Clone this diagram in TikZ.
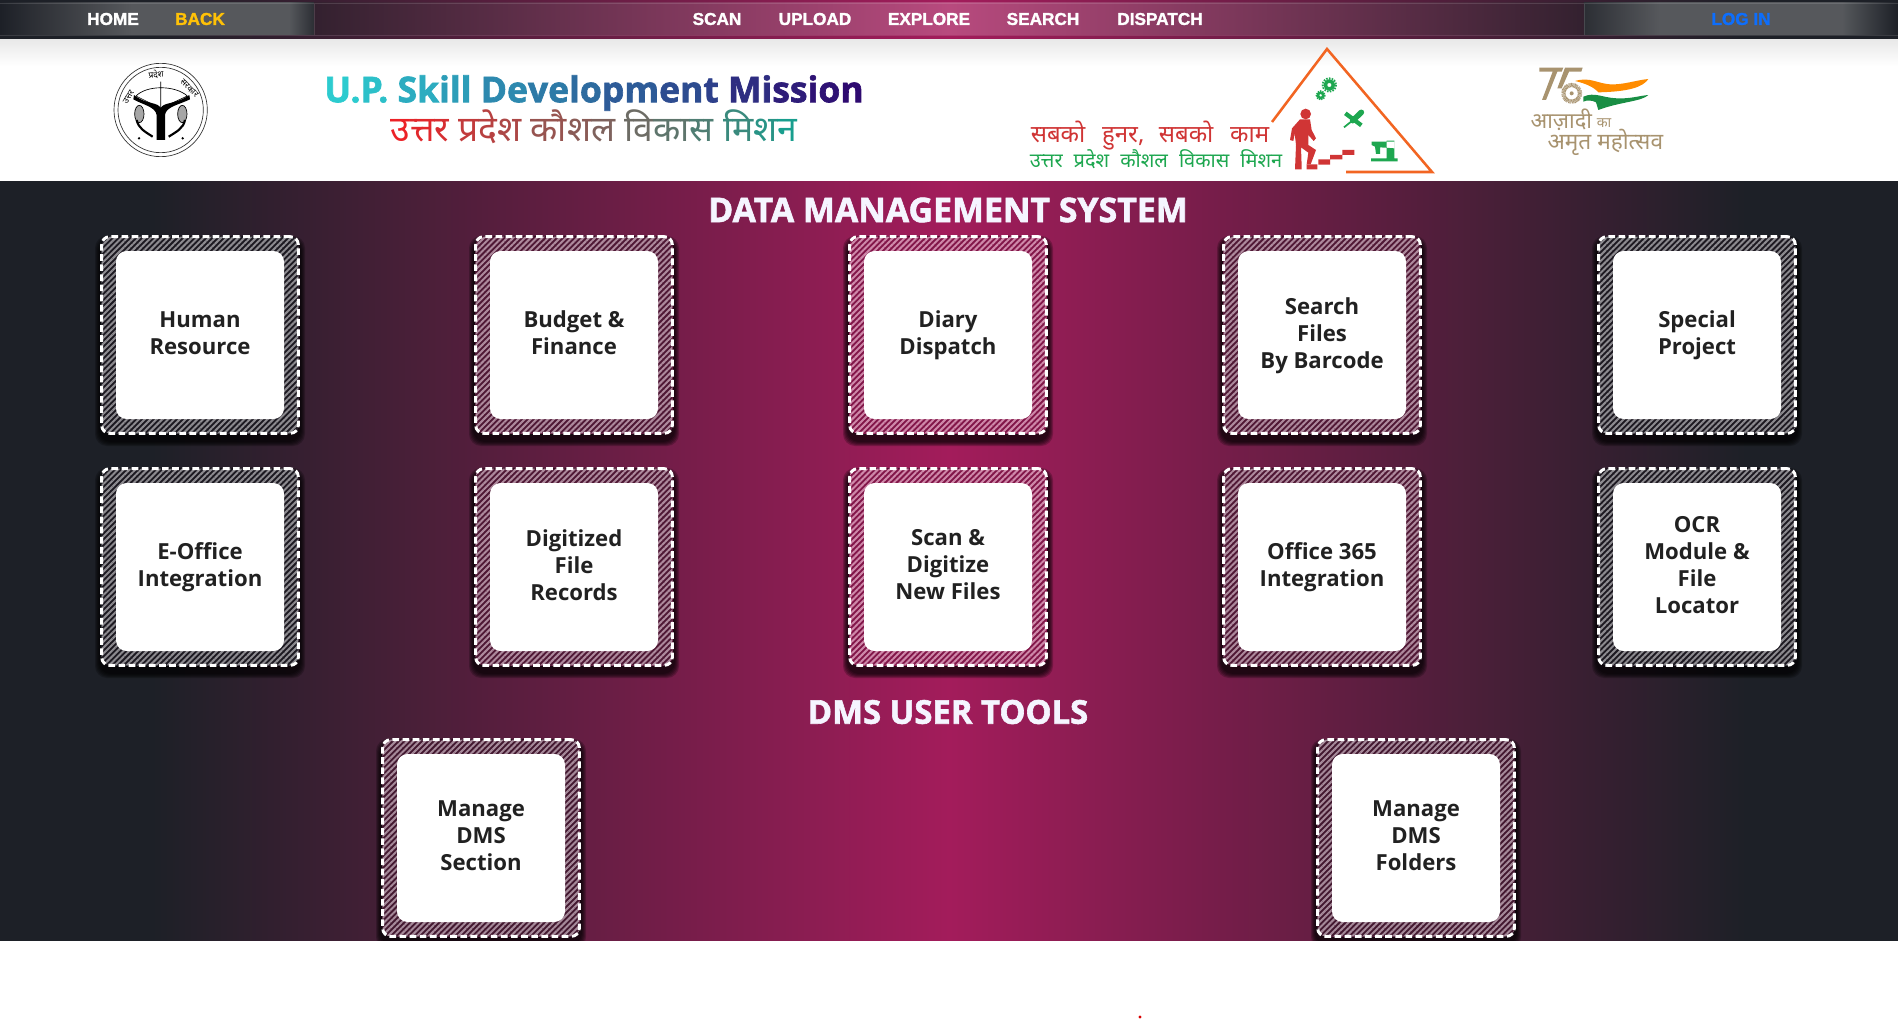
\documentclass[tikz,border=0pt]{standalone}
\usepackage{fontspec}
\setmainfont{Open Sans}
\newfontfamily\devafont[Script=Devanagari,BoldFeatures={FakeBold=1.2}]{Noto Sans}
\newfontfamily\navfont[BoldFeatures={FakeBold=1.6}]{Liberation Sans}
\newfontfamily\headfont[BoldFeatures={FakeBold=1.8}]{Open Sans}
\usetikzlibrary{patterns.meta}
\definecolor{bodydark}{HTML}{1D2027}
\definecolor{bodymid}{HTML}{A31C5B}
\definecolor{titlestart}{HTML}{2CCBCF}
\definecolor{titleend}{HTML}{2E0A70}
\definecolor{hindistart}{HTML}{EC2227}
\definecolor{hindiend}{HTML}{189E8E}
\definecolor{logored}{HTML}{D03535}
\definecolor{logogreen}{HTML}{1EA750}
\definecolor{logoorange}{HTML}{F26522}
\definecolor{amrit}{HTML}{A8936F}
\definecolor{cardtext}{HTML}{212121}
\definecolor{navblue}{HTML}{0D6EFD}
\definecolor{navamber}{HTML}{FFC107}
\definecolor{navgray}{HTML}{56585C}
\pgfdeclarehorizontalshading{bodyshade}{100bp}{color(0bp)=(bodydark); color(29bp)=(bodydark); color(50bp)=(bodymid); color(71bp)=(bodydark); color(100bp)=(bodydark)}
\pgfdeclarehorizontalshading{navleft}{100bp}{color(0bp)=(bodydark); color(25bp)=(bodydark); color(30bp)=(bodydark!85!gray); color(46bp)=(navgray); color(71bp)=(navgray); color(75bp)=(bodydark!85!gray); color(100bp)=(bodydark)}
\pgfdeclarehorizontalshading{navright}{100bp}{color(0bp)=(bodydark); color(25bp)=(bodydark!85!gray); color(37bp)=(navgray); color(66bp)=(navgray); color(75bp)=(bodydark); color(100bp)=(bodydark)}
\definecolor{navend}{HTML}{33212F}
\definecolor{navmid}{HTML}{B84A7E}
\pgfdeclarehorizontalshading{navmiddle}{100bp}{color(0bp)=(navend); color(25bp)=(navend); color(50bp)=(navmid); color(75bp)=(navend); color(100bp)=(navend)}
\newcommand\tg[2]{\textcolor{titleend!#1!titlestart}{#2}}
\newcommand\hg[2]{\textcolor{hindiend!#1!hindistart}{#2}}
\begin{document}
\begin{tikzpicture}[x=.75pt,y=-.75pt,
  navitem/.style={font=\navfont\bfseries\fontsize{12.9}{14}\selectfont,text=white,inner sep=0pt},
  sectionhead/.style={text=white!96!blue,inner sep=0pt},
  cardframe/.style={draw=white,line width=2.2pt,dash pattern=on 5pt off 2.6pt,rounded corners=6pt,minimum size=147.5pt,inner sep=0pt,outer sep=0pt,
    preaction={fill=stripecol!80!black},pattern={Lines[angle=45,distance=3.1pt,line width=1.5pt]},pattern color=white!48!stripecol},
  cardface/.style={fill=white,rounded corners=8pt,minimum size=126pt,inner sep=0pt},
  cardlabel/.style={inner sep=0pt,align=center,text=cardtext,font=\bfseries\fontsize{16.6}{20.2}\selectfont,execute at begin node=\strut,execute at end node=\strut},
  logotext/.style={inner sep=0pt},
  amrittext/.style={text=amrit,inner sep=0pt},
  sealtext/.style={font=\devafont\fontsize{6.4}{8}\selectfont,inner sep=0pt}]
  \useasboundingbox (0,0) rectangle (1898,1020);
  \fill[white] (0,0) rectangle (1898,1020);
  \shade[top color=black!9,bottom color=white] (0,39) rectangle (1898,66);
  \shade[shading=bodyshade] (0,0) rectangle (1898,39);
  \shade[shading=navleft] (0,3) rectangle (314,35);
  \shade[shading=navmiddle] (314,3) rectangle (1584,35);
  \shade[shading=navright] (1584,3) rectangle (1898,35);
  \draw[white,opacity=.13] (0,3) -- (1898,3) (0,35) -- (1898,35) (314,3) -- (314,35) (1584,3) -- (1584,35);
  \foreach \nm/\x/\lab/\col in {home/113/HOME/white,back/200/BACK/navamber,scan/717/SCAN/white,upload/815/UPLOAD/white,explore/929/EXPLORE/white,search/1043/SEARCH/white,dispatch/1160/DISPATCH/white,login/1741/LOG IN/navblue} {
    \node[navitem,text=\col] (\nm) at (\x,19) {\lab};
  }
  \shade[shading=bodyshade] (0,181.5) rectangle (1898,940.5);
  \node[sectionhead,font=\headfont\bfseries\fontsize{25.4}{28}\selectfont] (datahead) at (948,210) {DATA MANAGEMENT SYSTEM};
  \node[sectionhead,font=\headfont\bfseries\fontsize{24.6}{28}\selectfont] (toolhead) at (948,712) {DMS USER TOOLS};
  \foreach \nm/\cx/\cy/\lab in {
    hr/200/335/{Human\\Resource},budget/574/335/{Budget \&\\Finance},diary/948/335/{Diary\\Dispatch},
    barcode/1322/335/{Search\\Files\\By Barcode},special/1697/335/{Special\\Project},
    eoffice/200/567/{E-Office\\Integration},digitized/574/567/{Digitized\\File\\Records},newfiles/948/567/{Scan \&\\Digitize\\New Files},
    office/1322/567/{Office 365\\Integration},ocr/1697/567/{OCR\\Module \&\\File\\Locator},
    section/481/838/{Manage\\DMS\\Section},folders/1416/838/{Manage\\DMS\\Folders}} {
    \pgfmathsetmacro\mixpct{min(100,abs(\cx-949)/7.87)}
    \colorlet{stripecol}{bodydark!\mixpct!bodymid}
    \foreach \r in {1,2,3,4,5}
      \fill[black,fill opacity=.22,even odd rule,rounded corners=9pt] (\cx-100-\r,\cy-100-\r+6) rectangle (\cx+100+\r,\cy+100+\r+6)
        (\cx-99,\cy-99) rectangle (\cx+99,\cy+99);
    \node[cardframe] (\nm) at (\cx,\cy) {};
    \node[cardface] (\nm face) at (\nm) {};
    \node[cardlabel] (\nm label) at ([yshift=-1.4pt]\nm) {\lab};
  }
  \fill[white] (0,940.5) rectangle (1898,1020);
  \fill[red!85!black] (1140,1017) circle (1.7);
  \node[inner sep=0pt,font=\headfont\bfseries\fontsize{26.6}{28}\selectfont] (title) at (594,93) {\tg{0}{U.}\tg{6}{P.} \tg{16}{Sk}\tg{24}{ill} \tg{34}{De}\tg{42}{ve}\tg{50}{lo}\tg{58}{pm}\tg{66}{en}\tg{72}{t} \tg{82}{Mi}\tg{90}{ss}\tg{96}{io}\tg{100}{n}};
  \node[inner sep=0pt,font=\devafont\bfseries\fontsize{26.6}{28}\selectfont] (hindititle) at (594,127) {\hg{0}{उ}\hg{5}{त्त}\hg{10}{र} \hg{20}{प्र}\hg{25}{दे}\hg{30}{श} \hg{40}{कौ}\hg{46}{श}\hg{52}{ल} \hg{60}{वि}\hg{67}{का}\hg{74}{स} \hg{84}{मि}\hg{92}{श}\hg{100}{न}};
  \begin{scope}[shift={(90,40)},x=.25pt,y=-.25pt]
    \draw[black!80,line width=.5pt] (212,210) circle (140) (212,210) circle (128);
    \node[sealtext,rotate=58] (sealleft) at (116,170) {उत्तर};
    \node[sealtext,rotate=6] (sealtop) at (198,103) {प्रदेश};
    \node[sealtext,rotate=-44] (sealright) at (298,145) {सरकार};
    \draw[black,line width=.5pt] (138,168) .. controls (170,135) and (255,135) .. (292,168) (138,168) -- (212,205) -- (292,168) (212,125) -- (212,205);
    \fill[black] (132,165) .. controls (170,195) and (205,185) .. (212,205) .. controls (220,185) and (255,195) .. (298,165) -- (300,178)
      .. controls (265,195) and (228,200) .. (225,225) -- (225,300) -- (200,300) -- (200,225) .. controls (196,200) and (160,195) .. (130,178) -- cycle;
    \draw[black,line width=.5pt,fill=black!35] (148,222) ellipse (14 and 26) (277,222) ellipse (14 and 26);
    \draw[black,line width=1.6pt] (140,240) .. controls (145,265) and (165,275) .. (188,290) (285,240) .. controls (280,265) and (260,275) .. (236,290);
    \fill[black] (147,295) circle (4) (278,295) circle (4);
  \end{scope}
  \draw[logoorange,line width=1.9pt] (1272,122) -- (1327,49) -- (1432,172) -- (1346,172);
  \node[logotext,text=logored,font=\devafont\fontsize{18}{20}\selectfont] (slogan) at (1150,136) {सबको\hspace{.7em}हुनर,\hspace{.6em}सबको\hspace{.7em}काम};
  \node[logotext,text=logogreen,font=\devafont\fontsize{15}{16}\selectfont] (mission) at (1156,159) {उत्तर\hspace{.55em}प्रदेश\hspace{.55em}कौशल\hspace{.55em}विकास\hspace{.55em}मिशन};
  \begin{scope}[shift={(1000,30)},x=.25pt,y=-.25pt]
    \fill[logored] (917,252) circle (16);
    \fill[logored] (900,268) -- (930,268) -- (935,300) -- (948,325) -- (941,333) -- (925,315) -- (925,345) -- (948,360) -- (932,403) -- (920,403) -- (925,368) -- (903,352) -- (905,410) -- (905,418) -- (885,418) -- (888,345) -- (884,310) -- (880,333) -- (870,330) -- (876,295) -- cycle;
    \fill[logored] (920,403) rectangle (952,418) (955,388) rectangle (990,404) (990,375) rectangle (1027,388) (1027,360) rectangle (1063,375);
    \draw[logogreen,line width=1.4pt,dash pattern=on 1.2pt off .9pt] (988,165) circle (20);
    \draw[logogreen,line width=2.6pt] (988,165) circle (12);
    \draw[logogreen,line width=1.1pt,dash pattern=on 1pt off .8pt] (962,196) circle (13);
    \draw[logogreen,line width=1.9pt] (962,196) circle (8);
    \draw[logogreen,line width=1.3pt] (1032,292) -- (1062,268);
    \draw[logogreen,line width=4.2pt,line cap=round] (1058,272) -- (1084,247);
    \draw[logogreen,line width=3.2pt] (1036,250) -- (1084,286);
    \fill[logogreen] (1113,385) rectangle (1193,394) (1160,332) rectangle (1183,385) (1115,335) -- (1183,335) -- (1183,355) -- (1140,352) -- (1140,372) -- (1128,372) -- (1125,350) -- (1115,345) -- cycle;
  \end{scope}
  \begin{scope}[shift={(1520,55)},x=.25pt,y=-.25pt]
    \fill[amrit] (58,38) -- (130,38) -- (125,50) -- (112,50) -- (78,135) -- (66,135) -- (98,50) -- (58,50) -- cycle;
    \fill[amrit] (135,38) -- (188,38) -- (184,50) -- (147,50) -- (125,100) -- (112,100) -- cycle;
    \draw[amrit,line width=3.2pt,dash pattern=on .5pt off .4pt] (155,115) circle (25);
    \fill[amrit] (155,115) circle (6);
    \fill[orange!90!yellow] (165,78) .. controls (210,65) and (230,85) .. (270,88) .. controls (310,90) and (350,75) .. (385,72) .. controls (370,95) and (330,110) .. (235,112) .. controls (220,95) and (195,85) .. (165,78) -- cycle;
    \fill[logogreen!85!black] (190,125) .. controls (225,110) and (245,128) .. (290,130) .. controls (330,132) and (360,122) .. (385,120) .. controls (365,140) and (300,140) .. (235,165) -- (228,142) .. controls (215,135) and (200,135) .. (190,140) -- cycle;
    \node[amrittext,font=\devafont\fontsize{16.4}{17}\selectfont] (azadi) at (124,195) {आज़ादी};
    \node[amrittext,font=\devafont\fontsize{10.6}{12}\selectfont] (ka) at (252,205) {का};
    \node[amrittext,font=\devafont\fontsize{17}{18}\selectfont] (amrit) at (256,262) {अमृत महोत्सव};
  \end{scope}
\end{tikzpicture}
\end{document}
